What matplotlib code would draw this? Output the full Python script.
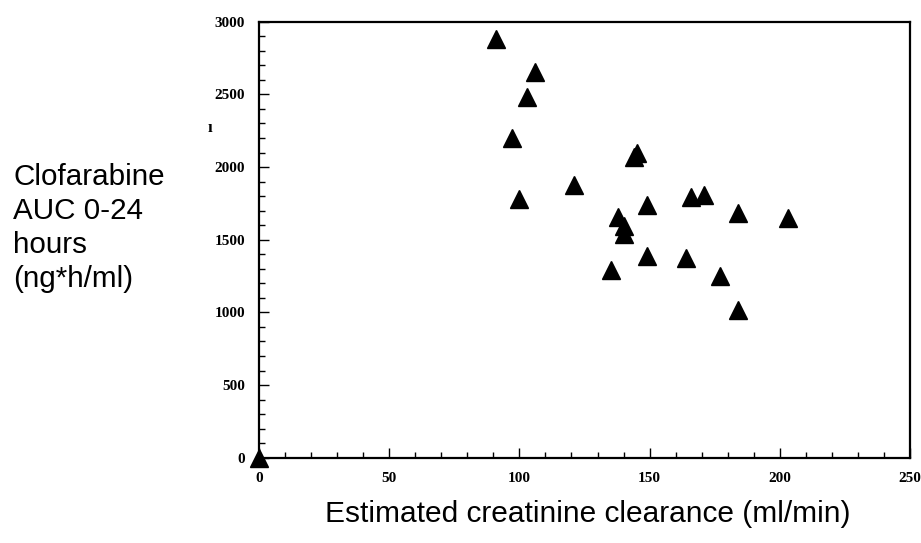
import matplotlib
matplotlib.use("Agg")
import matplotlib.pyplot as plt
from matplotlib.ticker import MultipleLocator

# Data
clearance = [0, 91, 106, 103, 97, 145, 144, 121, 100, 149, 166, 171, 184, 203,
             138, 140, 140, 149, 164, 135, 177, 184]
auc = [0, 2880, 2653, 2479, 2200, 2100, 2070, 1879, 1779, 1738, 1793, 1808, 1681, 1651,
       1656, 1594, 1538, 1389, 1371, 1293, 1252, 1013]

x_ticks = [0, 50, 100, 150, 200, 250]
y_ticks = [0, 500, 1000, 1500, 2000, 2500, 3000]

fig = plt.figure(figsize=(9.21, 5.43), dpi=100)
ax = fig.add_axes([259/921, 1-457.7/543, (910-259)/921, (457.7-21.7)/543])

ax.plot(clearance, auc, linestyle='none', marker='^', markersize=13.3,
        color='black', clip_on=False, zorder=5)

ax.set_xlim(0, 250)
ax.set_ylim(0, 3000)
ax.set_xticks(x_ticks)
ax.set_yticks(y_ticks)
ax.xaxis.set_minor_locator(MultipleLocator(10))
ax.yaxis.set_minor_locator(MultipleLocator(100))

for s in ax.spines.values():
    s.set_linewidth(1.6)
    s.set_color('black')

ax.tick_params(which='major', direction='in', length=7.5, width=1.0, pad=10)
ax.tick_params(which='minor', direction='in', length=4, width=1.0)
ax.tick_params(axis='y', pad=10)

for lab in ax.get_xticklabels() + ax.get_yticklabels():
    lab.set_fontfamily('Liberation Serif')
    lab.set_fontweight('bold')
    lab.set_fontsize(11)

fig.text(13/921, 1-228/543, "Clofarabine\nAUC 0-24\nhours\n(ng*h/ml)",
         family='Liberation Sans', fontsize=21.3, ha='left', va='center',
         linespacing=1.27)

fig.text(588/921, 1-514/543, "Estimated creatinine clearance (ml/min)",
         family='Liberation Sans', fontsize=21.5, ha='center', va='center')

fig.text(210/921, 1-128/543, "ı", family='Liberation Serif', fontweight='bold',
         fontsize=12, ha='center', va='center')

fig.savefig("out.png", dpi=100, facecolor='white')
